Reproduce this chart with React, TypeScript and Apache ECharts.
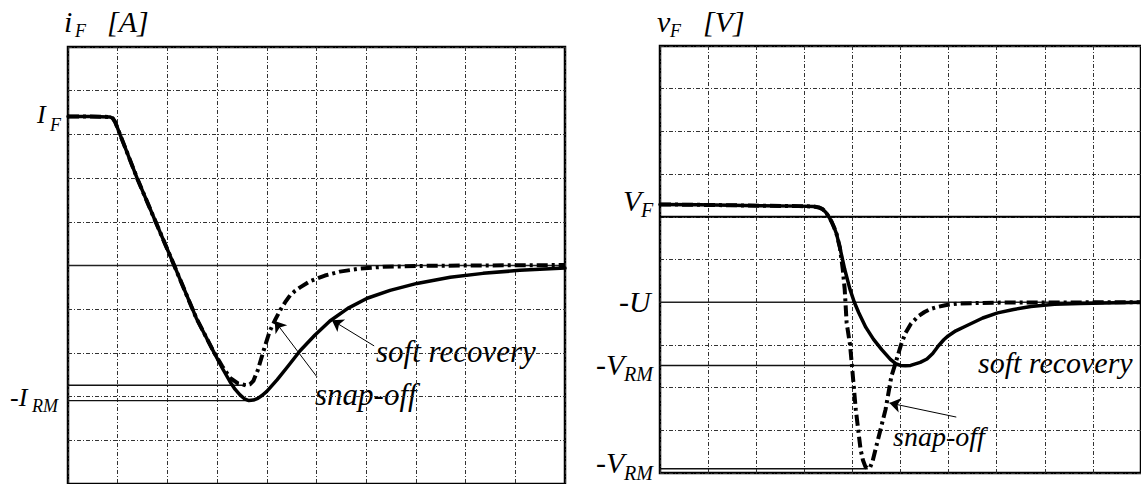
import React, { useEffect, useRef } from "react";
import * as echarts from "echarts";

// ---- Forward current i_F (left panel); x in time divisions, y in current divisions ----
const iCommon: [number, number][] = [
  [0, 3.41], [0.44, 3.41], [0.84, 3.4], [0.9, 3.37], [0.95, 3.28],
  [1.39, 2.0], [2.13, 0.02], [2.58, -1.2], [2.92, -1.95],
];
const iSoft: [number, number][] = [
  [3.1, -2.34], [3.26, -2.66], [3.36, -2.83], [3.46, -2.96], [3.55, -3.05],
  [3.64, -3.09], [3.73, -3.08], [3.82, -3.04], [3.91, -2.97], [4.0, -2.88],
  [4.21, -2.61], [4.43, -2.3], [4.67, -1.95], [4.97, -1.59], [5.27, -1.27],
  [5.63, -0.98], [6.02, -0.75], [6.48, -0.57], [7.02, -0.41], [7.69, -0.27],
  [8.35, -0.18], [9.09, -0.11], [10, -0.06],
];
const iSnap: [number, number][] = [
  [3.1, -2.3], [3.26, -2.57], [3.42, -2.7], [3.58, -2.74], [3.66, -2.72],
  [3.73, -2.64], [3.82, -2.39], [3.94, -1.93], [4.06, -1.5], [4.17, -1.24],
  [4.27, -1.02], [4.37, -0.84], [4.47, -0.68], [4.57, -0.58], [4.67, -0.5],
  [4.87, -0.36], [5.17, -0.23], [5.47, -0.14], [5.88, -0.07], [6.34, -0.03],
  [7.08, -0.01], [8.03, 0], [10, 0.01],
];
const I_RM_SNAP = -2.74;
const I_RM_SOFT = -3.09;
const I_RM_SNAP_T = 3.58;
const I_RM_SOFT_T = 3.64;

// ---- Diode voltage v_F (right panel) ----
const vCommon: [number, number][] = [
  [0, 1.29], [0.83, 1.28], [2.07, 1.26], [2.89, 1.25], [3.2, 1.24],
  [3.3, 1.22], [3.38, 1.18], [3.45, 1.1], [3.51, 1.0], [3.57, 0.88],
  [3.62, 0.75], [3.67, 0.6], [3.74, 0.28],
];
const vSoft: [number, number][] = [
  [3.84, -0.23], [3.95, -0.7], [4.04, -1.0], [4.13, -1.24], [4.28, -1.59],
  [4.44, -1.87], [4.61, -2.11], [4.79, -2.34], [4.9, -2.44], [5.0, -2.48],
  [5.1, -2.49], [5.21, -2.48], [5.41, -2.41], [5.55, -2.33], [5.67, -2.2],
  [5.79, -2.02], [5.9, -1.88], [5.99, -1.79], [6.15, -1.67], [6.34, -1.57],
  [6.71, -1.37], [7.02, -1.25], [7.35, -1.17], [7.71, -1.1], [8.2, -1.05],
  [8.74, -1.03], [10, -1.0],
];
const vSnap: [number, number][] = [
  [3.8, -0.23], [3.84, -0.7], [3.88, -1.48], [3.95, -1.99], [3.99, -2.48],
  [4.07, -3.51], [4.17, -4.45], [4.22, -4.7], [4.27, -4.85], [4.32, -4.9],
  [4.37, -4.86], [4.42, -4.72], [4.48, -4.45], [4.69, -3.51], [4.81, -2.74],
  [4.92, -2.34], [5.01, -2.0], [5.1, -1.73], [5.22, -1.5], [5.37, -1.33],
  [5.5, -1.23], [5.62, -1.16], [5.77, -1.11], [5.93, -1.07], [6.2, -1.03],
  [7.02, -1.01], [10, -1.0],
];
const V_F = 1.0;
const MINUS_U = -1.0;
const V_RM_SOFT = -2.48;
const V_RM_SNAP = -4.9;
const V_RM_SOFT_T = 5.0;
const V_RM_SNAP_T = 4.32;

const FONT = "Liberation Serif";

const gridLine = { show: true, lineStyle: { color: "#333", width: 1, type: [4, 2, 1, 2] as any } };

function axisX(gridIndex: number) {
  return {
    type: "value", gridIndex, min: 0, max: 10, interval: 1,
    axisLine: { show: false }, axisTick: { show: false }, axisLabel: { show: false },
    splitLine: gridLine,
  };
}
function axisY(gridIndex: number) {
  return {
    type: "value", gridIndex, min: -5, max: 5, interval: 1,
    axisLine: { show: false }, axisTick: { show: false }, axisLabel: { show: false },
    splitLine: gridLine,
  };
}

function refLine(idx: number, pts: [number, number][], width: number, color = "#111") {
  return {
    type: "line", xAxisIndex: idx, yAxisIndex: idx, data: pts, symbol: "none",
    clip: false, silent: true, z: 2, lineStyle: { width, color },
  };
}

function curve(idx: number, pts: [number, number][], dashed: boolean, extra: any = {}) {
  return {
    type: "line", xAxisIndex: idx, yAxisIndex: idx, data: pts, symbol: "none",
    smooth: false, silent: true, z: dashed ? 3 : 4,
    lineStyle: dashed
      ? { width: 4, color: "#000", type: [11, 4, 3, 4], join: "round" }
      : { width: 3.5, color: "#000", type: "solid", join: "round", cap: "round" },
    ...extra,
  };
}

function arrows(lines: [[number, number], [number, number]][]) {
  return {
    silent: true, symbol: ["none", "arrow"], symbolSize: 11,
    label: { show: false },
    lineStyle: { color: "#000", width: 1, type: "solid" },
    data: lines.map(([a, b]) => [{ coord: a }, { coord: b }]),
  };
}

function txt(text: string, x: number, baseline: number, size: number) {
  return {
    type: "text", x, y: baseline - size * 0.34, silent: true,
    style: {
      text, fontSize: size, fontFamily: FONT, fontStyle: "italic",
      fill: "#000", align: "left", verticalAlign: "middle",
    },
  };
}

export default function App() {
  const ref = useRef<HTMLDivElement>(null);

  useEffect(() => {
    if (!ref.current) return;
    const chart = echarts.init(ref.current, undefined, { renderer: "svg" });
    chart.setOption({
      animation: false,
      backgroundColor: "#fff",
      grid: [
        { left: 68, top: 47, width: 497, height: 440, show: true, borderColor: "#000", borderWidth: 2.5, backgroundColor: "transparent" },
        { left: 660, top: 46, width: 484, height: 427, show: true, borderColor: "#000", borderWidth: 2.5, backgroundColor: "transparent" },
      ],
      xAxis: [axisX(0), axisX(1)],
      yAxis: [axisY(0), axisY(1)],
      series: [
        // left panel reference levels
        refLine(0, [[0, 0], [10, 0]], 1.3, "#222"),
        refLine(0, [[-0.12, I_RM_SNAP], [I_RM_SNAP_T, I_RM_SNAP]], 1.3),
        refLine(0, [[-0.12, I_RM_SOFT], [I_RM_SOFT_T, I_RM_SOFT]], 1.3),
        curve(0, [...iCommon, ...iSnap], true),
        curve(0, [...iCommon, ...iSoft], false, {
          markLine: arrows([
            [[6.16, -1.84], [5.31, -1.25]],
            [[5.01, -2.55], [4.16, -1.27]],
          ]),
        }),
        // right panel reference levels
        refLine(1, [[0, V_F], [10, V_F]], 2, "#000"),
        refLine(1, [[-0.06, MINUS_U], [10, MINUS_U]], 1.5, "#222"),
        refLine(1, [[-0.15, V_RM_SOFT], [V_RM_SOFT_T, V_RM_SOFT]], 1.5),
        refLine(1, [[-0.15, V_RM_SNAP], [V_RM_SNAP_T, V_RM_SNAP]], 1.5),
        curve(1, [...vCommon, ...vSnap], true),
        curve(1, [...vCommon, ...vSoft], false, {
          markLine: arrows([[[6.16, -3.69], [4.77, -3.36]]]),
        }),
      ],
      graphic: [
        // left titles and level labels
        txt("i", 64, 32, 30), txt("F", 75, 37, 18), txt("[A]", 107, 32, 30),
        txt("I", 37, 123, 26), txt("F", 50, 131, 18),
        txt("-I", 10, 406, 26), txt("RM", 32, 412, 18),
        txt("soft recovery", 376, 362, 31),
        txt("snap-off", 315, 405, 31),
        // right titles and level labels
        txt("v", 657, 32, 30), txt("F", 670, 37, 18), txt("[V]", 703, 32, 30),
        txt("V", 623, 211, 30), txt("F", 641, 217, 20),
        txt("-U", 619, 312, 30),
        txt("-V", 596, 375, 30), txt("RM", 624, 381, 20),
        txt("-V", 596, 473, 30), txt("RM", 624, 480, 20),
        txt("soft recovery", 978, 373, 30),
        txt("snap-off", 893, 446, 28),
      ],
    });
    return () => chart.dispose();
  }, []);

  return (
    <div
      ref={ref}
      style={{ position: "fixed", left: 0, top: 0, width: 1141, height: 484, background: "#fff" }}
    />
  );
}
